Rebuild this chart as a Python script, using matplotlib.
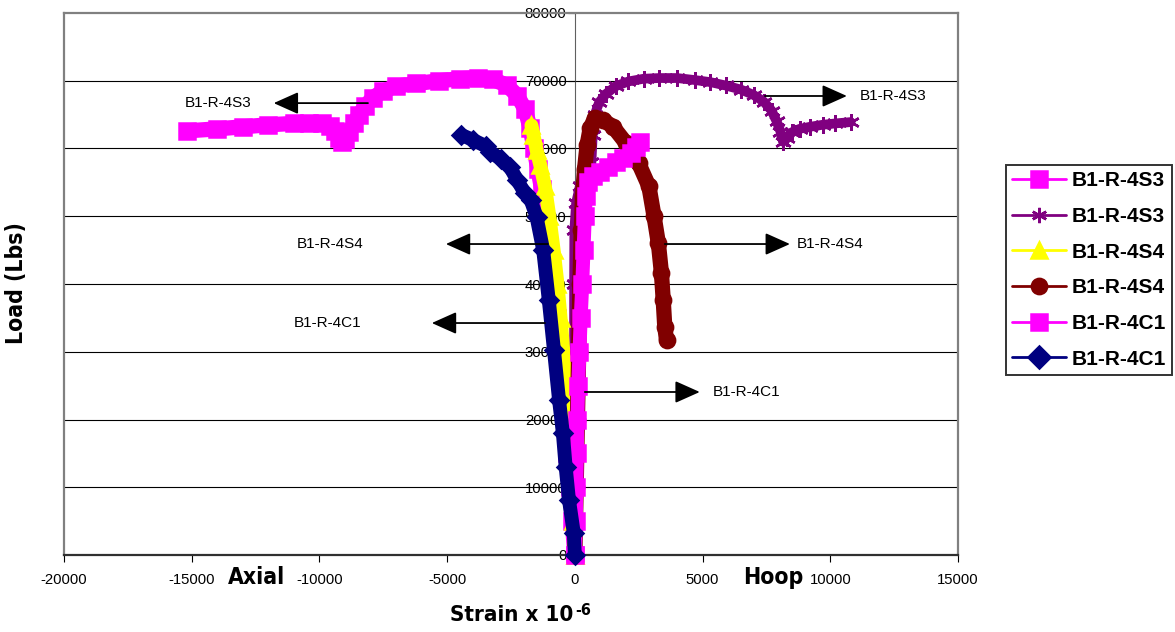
import matplotlib.pyplot as plt
from matplotlib import font_manager
from matplotlib.font_manager import FontProperties

plt.rcParams['font.family'] = ['Liberation Sans', 'DejaVu Sans']
plt.rcParams['axes.unicode_minus'] = False

# a narrow bold face for the axis titles if one is installed
narrow_path = None
for f in font_manager.fontManager.ttflist:
    base = f.fname.lower()
    if ('narrow' in base or 'condensed' in base) and 'bold' in base and 'oblique' not in base \
            and 'italic' not in base:
        narrow_path = f.fname
        break


def title_font(size):
    if narrow_path:
        return FontProperties(fname=narrow_path, size=size)
    return FontProperties(family='Liberation Sans', weight='bold', size=size * 0.88)


# strain (x 10^-6) vs load (lbs); axial strains negative, hoop strains positive
s3_axial_x = [0, -100, -200, -300, -400, -500, -600, -700, -850, -1000, -1150, -1300, -1450,
              -1600, -1750, -1950, -2250, -2650, -3200, -3800, -4500, -5300, -6200, -7000,
              -7500, -7900, -8200, -8450, -8650, -8850, -9000, -9100, -9250, -9400, -9600,
              -9900, -10400, -11000, -12000, -13000, -14000, -15200]
s3_axial_y = [0, 5000, 10000, 15000, 20000, 25000, 30000, 35000, 40000, 45000, 50000, 54000, 57000,
              60000, 63000, 65800, 67800, 69300, 70200, 70450, 70300, 70000, 69600, 69200,
              68500, 67500, 66300, 65000, 63700, 62400, 61400, 60900, 61500, 62600, 63300,
              63700, 63800, 63700, 63500, 63200, 62900, 62600]

s3_hoop_x = [0, 0, -20, -30, -30, -20, 50, 200, 450, 650, 700, 780, 950, 1200, 1600, 2100, 2700,
             3300, 4000, 4700, 5300, 5900, 6500, 7000, 7400, 7700, 7900, 8050, 8150, 8300, 8500,
             8800, 9200, 9700, 10200, 10800]
s3_hoop_y = [0, 10000, 20000, 30000, 40000, 48000, 52000, 54500, 56500, 58000, 62000, 65000, 66800,
             68000, 69200, 69900, 70300, 70400, 70400, 70100, 69800, 69300, 68700, 67900, 66900,
             65600, 64000, 62500, 61000, 61500, 62400, 62900, 63200, 63500, 63700, 63900]

s4_axial_x = [0, -60, -120, -200, -280, -370, -450, -560, -680, -830, -1000, -1170, -1350, -1500,
              -1620, -1700]
s4_axial_y = [0, 5000, 10000, 15000, 20000, 25000, 30000, 35000, 40000, 45000, 50000, 54400, 57500,
              59800, 62000, 63400]

s4_hoop_x = [0, 50, 100, 150, 200, 250, 300, 380, 480, 600, 780, 1100, 1500, 2000, 2500, 2900,
             3100, 3270, 3390, 3460, 3520, 3590]
s4_hoop_y = [0, 10000, 20000, 30000, 40000, 48000, 53000, 57000, 60500, 63000, 64500, 64200, 63200,
             60800, 57800, 54400, 50000, 46000, 41600, 37600, 33700, 31700]

c1_hoop_x = [0, 40, 60, 80, 100, 130, 180, 230, 290, 340, 390, 430, 500, 700, 1000, 1300, 1600,
             1900, 2200, 2400, 2550]
c1_hoop_y = [0, 5000, 10000, 15000, 20000, 25000, 30000, 35000, 40000, 45000, 50000, 53000, 55000,
             56000, 56600, 57300, 58000, 58600, 59300, 60200, 60900]

c1_axial_x = [0, -40, -230, -360, -470, -620, -820, -1020, -1240, -1500, -1730, -1960, -2250, -2550,
              -2900, -3330, -3460, -3980, -4440]
c1_axial_y = [0, 3200, 8100, 13000, 18000, 22900, 30300, 37600, 45000, 49900, 52400, 53400, 55300,
              57300, 58500, 59500, 60300, 61250, 62000]

x_ticks = list(range(-20000, 15001, 5000))
y_ticks = list(range(0, 80001, 10000))

fig = plt.figure(figsize=(11.75, 6.32), dpi=100)
ax = fig.add_axes([64 / 1175, 1 - 555 / 632, (958 - 64) / 1175, (555 - 13) / 632])
ax.set_xlim(-20000, 15000)
ax.set_ylim(0, 80000)

for yv in y_ticks[1:-1]:
    ax.axhline(yv, color='black', lw=0.8, zorder=1)

# (x, y, label, colour, marker, marker size, line width)
series = [
    (s3_axial_x, s3_axial_y, 'B1-R-4S3', '#FF00FF', 's', 11, 11),
    (s3_hoop_x, s3_hoop_y, 'B1-R-4S3', '#800080', (6, 2, 0), 12, 7),
    (s4_axial_x, s4_axial_y, 'B1-R-4S4', '#FFFF00', '^', 12, 10),
    (s4_hoop_x, s4_hoop_y, 'B1-R-4S4', '#800000', 'o', 11, 11),
    (c1_hoop_x, c1_hoop_y, 'B1-R-4C1', '#FF00FF', 's', 11, 10),
    (c1_axial_x, c1_axial_y, 'B1-R-4C1', '#000080', 'D', 9, 10),
]
for x, y, lab, col, mk, ms, lw in series:
    ax.plot(x, y, color=col, lw=lw, marker=mk, ms=ms, mfc=col, mec=col, mew=1.8,
            solid_joinstyle='round', solid_capstyle='round', label=lab,
            clip_on=False, zorder=3)

# axes: y axis through zero strain, gray frame round the plot area
ax.spines['left'].set_position(('data', 0))
ax.spines['left'].set_color('#606060')
ax.spines['left'].set_linewidth(0.8)
ax.spines['left'].set_zorder(1)
for side in ['top', 'right']:
    ax.spines[side].set_color('#808080')
    ax.spines[side].set_linewidth(1.6)
ax.spines['bottom'].set_color('#303030')
ax.spines['bottom'].set_linewidth(1.6)
ax.axvline(-20000, color='#808080', lw=1.6, clip_on=False, zorder=1)

ax.set_xticks(x_ticks)
ax.set_yticks(y_ticks)
ax.tick_params(axis='x', direction='out', length=5, pad=8, labelsize=10.7)
ax.tick_params(axis='y', direction='out', length=5, pad=1, labelsize=10.7)

ax.text(-12450, -0.042, 'Axial', transform=ax.get_xaxis_transform(), ha='center', va='center',
        fontproperties=title_font(16.5))
ax.text(7750, -0.042, 'Hoop', transform=ax.get_xaxis_transform(), ha='center', va='center',
        fontproperties=title_font(16.5))
xlab = fig.text(512 / 1175, 1 - 615 / 632, 'Strain x 10', ha='center', va='center',
                fontproperties=title_font(16))
ax.annotate('-6', xy=(1, 1), xycoords=xlab, xytext=(1, -4), textcoords='offset points',
            ha='left', va='center', fontproperties=title_font(11.5))
fig.text(17 / 1175, 1 - 283 / 632, 'Load (Lbs)', rotation=90, ha='center', va='center',
         fontproperties=title_font(16.5))

# arrow call-outs naming each gauge
arrow = dict(arrowstyle='-|>,head_length=0.85,head_width=0.38', color='black', lw=1.3,
             mutation_scale=18, shrinkA=0, shrinkB=0)
callouts = [
    ('B1-R-4S3', -8100, -11790, 66700, -12650, 'right'),
    ('B1-R-4S3', 7440, 10650, 67750, 11160, 'left'),
    ('B1-R-4S4', -1060, -5050, 45900, -8260, 'right'),
    ('B1-R-4S4', 3520, 8420, 45900, 8690, 'left'),
    ('B1-R-4C1', -1170, -5600, 34240, -8340, 'right'),
    ('B1-R-4C1', 390, 4890, 24060, 5400, 'left'),
]
for lab, tail, tip, yv, tx, ha in callouts:
    ax.annotate('', xy=(tip, yv), xytext=(tail, yv), arrowprops=arrow, zorder=4)
    ax.text(tx, yv, lab, ha=ha, va='center', fontsize=11, zorder=4)

leg = ax.legend(loc='upper left', bbox_to_anchor=(1006 / 1175, 1 - 165 / 632),
                bbox_transform=fig.transFigure, prop={'weight': 'bold', 'size': 15},
                frameon=True, fancybox=False, edgecolor='black', handlelength=2.6,
                handletextpad=0.25, borderpad=0.3, labelspacing=0.8, borderaxespad=0)
leg.get_frame().set_linewidth(1.4)
for h in leg.legend_handles:
    h.set_linewidth(2)
    h.set_markersize(11)

fig.savefig('out.png', dpi=100)
